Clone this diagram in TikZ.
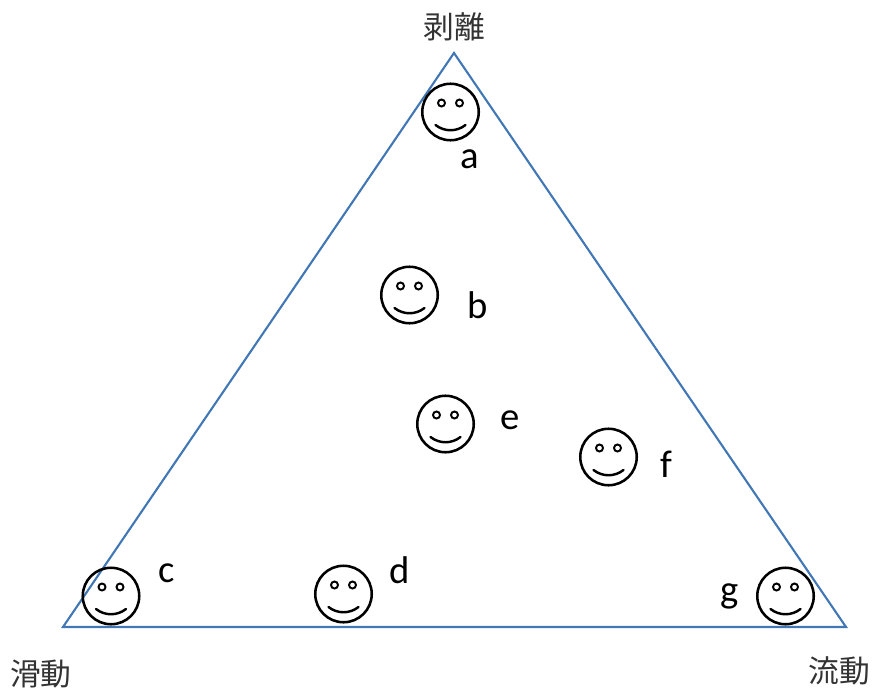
\documentclass[tikz,border=0pt]{standalone}
\usepackage{fontspec}
\setmainfont{Carlito}
\newfontfamily\cjkfont{Noto Sans CJK JP}
\definecolor{triborder}{HTML}{4177B4}
\definecolor{cjktext}{HTML}{333333}
\begin{document}
\begin{tikzpicture}[
    x=0.02cm, y=-0.02cm,
    face/.style={circle, draw=black, line width=1.45pt, fill=none,
        minimum size=1.13cm, inner sep=0pt},
    eye/.style={circle, draw=black, line width=1.1pt,
        minimum size=0.14cm, inner sep=0pt},
    mouth/.style={draw=black, line width=1.4pt, line cap=round},
    tri/.style={draw=triborder, line width=1.2pt, line join=miter},
    lab/.style={font=\fontsize{22}{25}\selectfont, text=black, inner sep=0pt},
    corner/.style={font=\cjkfont\fontsize{17.5}{20}\selectfont, text=cjktext, inner sep=0pt},
]
\useasboundingbox (0,0) rectangle (872,693);

% --- Triangle ---
\coordinate (top) at (454,53);
\coordinate (left) at (63,627);
\coordinate (right) at (846,627);
\draw[tri] (top) -- (left) -- (right) -- cycle;

% --- Corner labels ---
\node[corner] (peel) at (454,27) {剥離};
\node[corner] (slide) at (41,674) {滑動};
\node[corner] (flow) at (839,671) {流動};

% --- Faces ---
\foreach \n/\x/\y in {a/450.5/112, b/409.5/295, c/111/596, d/343.5/594, e/445.5/424, f/608.5/457, g/785.5/596} {
    \node[face] (face\n) at (\x,\y) {};
    \node[eye] (eyel\n) at (\x-9,\y-9) {};
    \node[eye] (eyer\n) at (\x+9,\y-9) {};
    \draw[mouth] (\x-15,\y+13) .. controls (\x-6,\y+20) and (\x+6,\y+20) .. (\x+15,\y+13);
}

% --- Face labels ---
\foreach \n/\x/\y in {a/470/159, b/478/305, c/166.5/573, d/400/570, e/510/420, f/666/464, g/730/596} {
    \node[lab] (lab\n) at (\x,\y) {\n};
}
\end{tikzpicture}
\end{document}
